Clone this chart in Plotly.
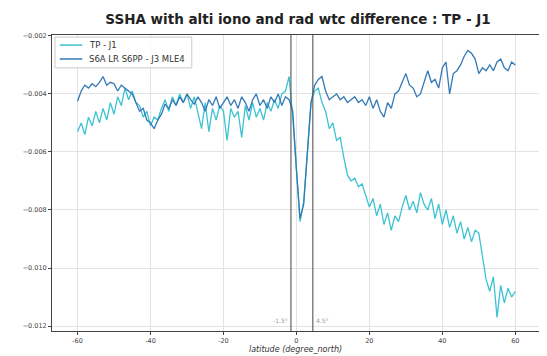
import numpy as np
import plotly.graph_objects as go

latitude = list(range(-60, 61))

# values in units of 1e-3
tp_j1_milli = [
    -5.3, -5.0, -5.4, -4.8, -5.1, -4.6, -5.0, -4.5, -4.9, -4.3,
    -4.7, -4.1, -4.4, -3.8, -4.2, -3.9, -4.3, -4.4, -4.8, -4.6,
    -5.1, -4.8, -4.9, -4.5, -4.2, -4.6, -4.1, -4.4, -4.0, -4.3,
    -4.0, -4.5, -4.1, -4.7, -5.2, -4.3, -5.3, -4.5, -4.9, -4.4,
    -4.6, -5.6, -4.5, -4.8, -4.6, -5.5, -4.4, -4.9, -4.3, -4.8,
    -4.5, -4.9, -4.3, -4.6, -4.2, -4.5, -4.0, -3.9, -3.4, -4.8,
    -6.7, -8.4, -7.7, -6.0, -4.3, -3.9, -3.8, -4.3, -4.6, -5.2,
    -5.0, -5.6, -5.5, -6.2, -6.8, -7.0, -6.9, -7.2, -7.1, -7.5,
    -7.9, -7.6, -8.2, -7.8, -8.5, -8.1, -8.7, -8.2, -8.4, -7.9,
    -7.5, -8.0, -7.7, -8.1, -7.4, -7.8, -8.0, -7.6, -8.3, -7.8,
    -8.5, -8.0, -8.6, -8.2, -8.8, -8.4, -9.0, -8.6, -9.1, -8.7,
    -8.8, -9.6, -10.4, -10.8, -10.3, -11.7, -10.6, -11.2, -10.7, -11.0,
    -10.8,
]

s6a_j3_milli = [
    -4.25, -3.9, -3.7, -3.8, -3.65, -3.75, -3.6, -3.4, -3.7, -3.6,
    -3.65, -3.9, -3.7, -3.8, -3.9, -4.0, -4.3, -4.6, -4.5, -4.9,
    -5.0, -5.2, -4.9, -4.7, -4.35, -4.5, -4.2, -4.4, -4.1, -4.3,
    -4.0, -4.2, -4.35, -4.1, -4.3, -4.6, -4.2, -4.4, -4.1, -4.5,
    -4.3, -4.1, -4.4, -4.2, -4.5, -4.1, -4.3, -4.6, -4.2, -4.0,
    -4.4, -4.2, -4.5, -4.1, -4.3, -4.0, -4.4, -4.1, -4.2, -4.6,
    -6.6, -8.3, -7.8, -6.1, -4.3, -3.7, -3.5, -3.4, -3.9, -4.2,
    -4.1, -4.0, -4.2, -4.1, -4.3, -4.2, -4.1, -4.3, -4.2, -4.4,
    -4.1, -4.5, -4.2, -4.6, -4.8, -4.3, -4.5, -4.0, -3.9, -3.6,
    -3.3, -3.7, -3.8, -4.1, -4.0, -3.6, -3.2, -3.6, -3.5, -3.8,
    -3.1, -2.9, -4.0, -3.3, -3.2, -3.0, -2.7, -2.5, -2.6, -2.8,
    -3.3, -3.1, -3.2, -3.0, -3.2, -2.9, -2.8, -3.1, -3.2, -2.9,
    -3.0,
]

tp_j1 = np.array(tp_j1_milli) * 1e-3
s6a_j3 = np.array(s6a_j3_milli) * 1e-3

series_names = ["TP - J1", "S6A LR S6PP - J3 MLE4"]
series_colors = ["#3cc3d2", "#3479b6"]
band_lats = [-1.5, 4.5]
band_labels = ["-1.5°", "4.5°"]
x_ticks = [-60, -40, -20, 0, 20, 40, 60]
y_ticks = [-0.012, -0.010, -0.008, -0.006, -0.004, -0.002]

fig = go.Figure()
for yv, nm, col in zip([tp_j1, s6a_j3], series_names, series_colors):
    fig.add_trace(go.Scatter(x=latitude, y=yv, mode="lines", name=nm,
                             line=dict(color=col, width=1.3), showlegend=False))

for lat in band_lats:
    fig.add_shape(type="line", xref="x", yref="paper", x0=lat, x1=lat, y0=0, y1=1,
                  line=dict(color="#555555", width=1.1))

fig.add_annotation(x=band_lats[0], y=-0.0118, xref="x", yref="y", text=band_labels[0],
                   showarrow=False, xanchor="right", xshift=-1,
                   font=dict(size=6, color="#999999"))
fig.add_annotation(x=band_lats[1], y=-0.0118, xref="x", yref="y", text=band_labels[1],
                   showarrow=False, xanchor="left", xshift=1,
                   font=dict(size=6, color="#999999"))

# legend box drawn in paper coordinates (upper left, inside the axes)
fig.add_shape(type="rect", xref="paper", yref="paper", x0=0.006, x1=0.287, y0=0.889, y1=0.993,
              line=dict(color="#cccccc", width=1), fillcolor="rgba(255,255,255,0.85)", layer="above")
legend_rows = [0.966, 0.919]
for row, nm, col in zip(legend_rows, series_names, series_colors):
    fig.add_shape(type="line", xref="paper", yref="paper", x0=0.016, x1=0.062, y0=row, y1=row,
                  line=dict(color=col, width=1.5), layer="above")
    fig.add_annotation(x=0.072, y=row, xref="paper", yref="paper", text=nm, showarrow=False,
                       xanchor="left", yanchor="middle", font=dict(size=8.5, color="#333333"))

# the page adds an 8 px body margin, so the figure is 8 px smaller than the window
fig.update_layout(
    width=539, height=348,
    margin=dict(l=44, r=8, t=27, b=25),
    paper_bgcolor="white", plot_bgcolor="white",
    font=dict(family="DejaVu Sans", color="#333333"),
    title=dict(text="<b>SSHA with alti iono and rad wtc difference : TP - J1</b>",
               x=0.538, xanchor="center", xref="container", y=0.968, yanchor="middle",
               font=dict(size=13.5, color="#222222")),
    showlegend=False,
    xaxis=dict(range=[-67, 66.5], tickvals=x_ticks, ticktext=[f"{v}" for v in x_ticks],
               automargin=False,
               showgrid=True, gridcolor="#e3e3e3", gridwidth=1, zeroline=False,
               showline=True, linecolor="#444444", linewidth=1, mirror=True,
               ticks="outside", ticklen=3, tickcolor="#444444",
               tickfont=dict(size=6.5, color="#444444"),
               title=dict(text="<i>latitude (degree_north)</i>", standoff=2,
                          font=dict(size=8, color="#333333"))),
    yaxis=dict(range=[-0.01217, -0.00197], tickvals=y_ticks, tickformat=".3f",
               automargin=False,
               showgrid=True, gridcolor="#e3e3e3", gridwidth=1, zeroline=False,
               showline=True, linecolor="#444444", linewidth=1, mirror=True,
               ticks="outside", ticklen=3, tickcolor="#444444",
               tickfont=dict(size=6.5, color="#444444")),
)

fig.write_html("out.html")
